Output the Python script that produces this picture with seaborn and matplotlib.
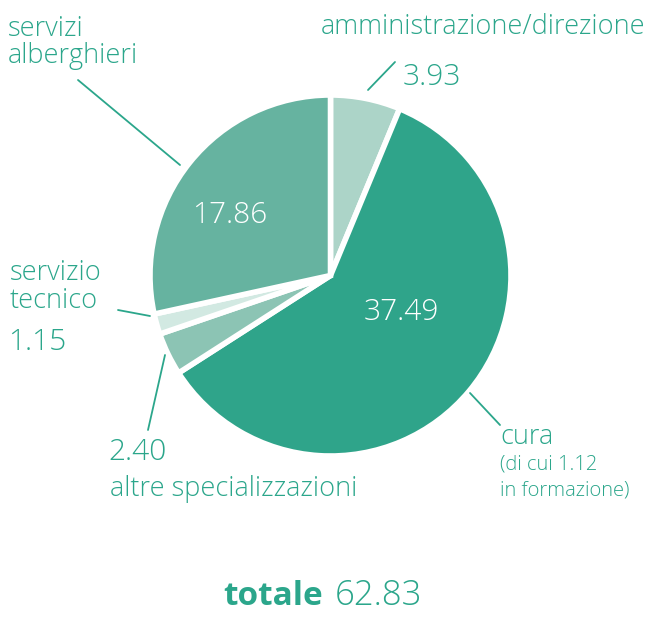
import matplotlib
matplotlib.use("Agg")
import matplotlib.pyplot as plt
import seaborn as sns

# dati
categorie = ["amministrazione/direzione", "cura", "altre specializzazioni",
             "servizio tecnico", "servizi alberghieri"]
valori = [3.93, 37.49, 2.40, 1.15, 17.86]
totale = 62.83
colori = ["#acd4c8", "#2fa48a", "#8cc4b4", "#d2e9e2", "#66b3a0"]
VERDE = "#2ba68b"

sns.set_theme(style="white")
plt.rcParams["font.family"] = ["Open Sans", "DejaVu Sans"]

W, H = 650, 617
fig = plt.figure(figsize=(W / 100, H / 100), dpi=100)
ax = fig.add_axes([0, 0, 1, 1])

def Y(y):
    return H - y

cx, cy, r = 330.5, 275.5, 180.5
ax.pie(valori, colors=colori, startangle=90, counterclock=False,
       center=(cx, Y(cy)), radius=r, frame=True,
       wedgeprops=dict(edgecolor="white", linewidth=4))
ax.set_xlim(0, W)
ax.set_ylim(0, H)
ax.set_aspect("equal")
ax.axis("off")

FW = "light"
lab = dict(color=VERDE, fontsize=19.5, fontweight=FW, va="center")
num = dict(color=VERDE, fontsize=21.5, fontweight=FW, va="center")
piccolo = dict(color=VERDE, fontsize=14.5, fontweight=FW, va="center")

# linee guida
linee = [((368, 90), (395, 62)), ((78, 80), (180, 165)), ((118, 310), (150, 316)),
         ((165, 355), (148, 430)), ((470, 393), (500, 425))]
for (x0, y0), (x1, y1) in linee:
    ax.plot([x0, x1], [Y(y0), Y(y1)], color=VERDE, lw=1.3)

ax.text(645, Y(27), "amministrazione/direzione", ha="right", **lab)
ax.text(403, Y(77), f"{valori[0]:.2f}", ha="left", **num)

ax.text(8, Y(29), "servizi", ha="left", **lab)
ax.text(8, Y(56), "alberghieri", ha="left", **lab)
ax.text(230, Y(215), f"{valori[4]:.2f}", ha="center", color="white",
        fontsize=21.5, fontweight=FW, va="center")

ax.text(10, Y(273), "servizio", ha="left", **lab)
ax.text(10, Y(301), "tecnico", ha="left", **lab)
ax.text(8, Y(342), f"{valori[3]:.2f}", ha="left", **num)

ax.text(108, Y(452), f"{valori[2]:.2f}", ha="left", **num)
ax.text(110, Y(489), "altre specializzazioni", ha="left", **lab)

ax.text(401, Y(312), f"{valori[1]:.2f}", ha="center", color="white",
        fontsize=21.5, fontweight=FW, va="center")
ax.text(500, Y(437), "cura", ha="left", **lab)
ax.text(500, Y(465), "(di cui 1.12", ha="left", **piccolo)
ax.text(500, Y(490), "in formazione)", ha="left", **piccolo)

ax.text(323, Y(605), "totale", ha="right", va="baseline", color=VERDE,
        fontsize=24, fontweight="bold")
ax.text(335, Y(605), f"{totale:.2f}", ha="left", va="baseline", color=VERDE,
        fontsize=25, fontweight=FW)

fig.savefig("out.png", dpi=100)
